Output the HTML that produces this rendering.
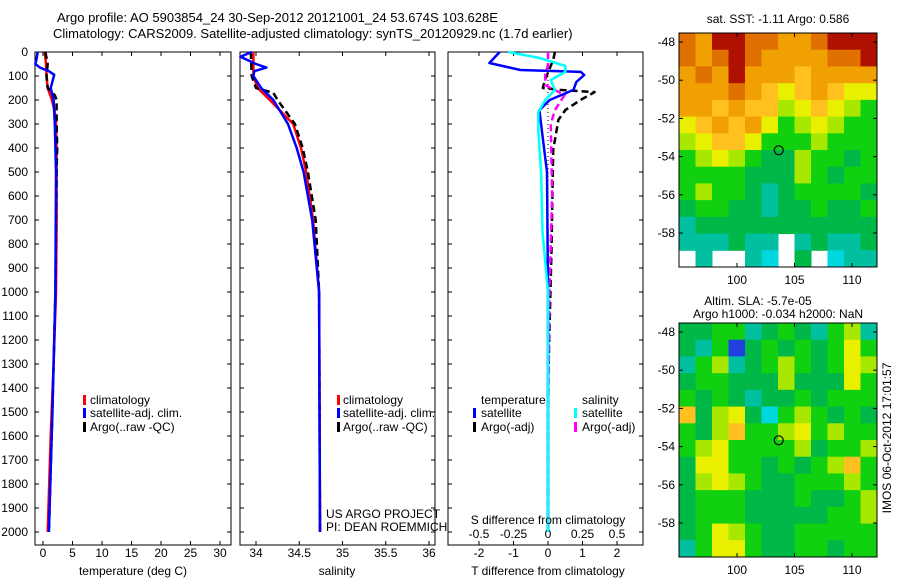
<!DOCTYPE html>
<html><head><meta charset="utf-8"><style>
html,body{margin:0;padding:0;background:#fff;}
svg{display:block;font-family:"Liberation Sans",sans-serif;}
text{font-size:12px;fill:#000;}
</style></head><body>
<svg id="fig" width="900" height="580" viewBox="0 0 900 580" xmlns="http://www.w3.org/2000/svg">
<text x="57" y="22" style="font-size:13px">Argo profile: AO 5903854_24 30-Sep-2012 20121001_24 53.674S 103.628E</text>
<text x="53" y="38" style="font-size:13px">Climatology: CARS2009. Satellite-adjusted climatology: synTS_20120929.nc (1.7d earlier)</text>
<g id="plots"></g>
</svg>
<script>
// ---------- data ----------
const depthTicks=[0,100,200,300,400,500,600,700,800,900,1000,1100,1200,1300,1400,1500,1600,1700,1800,1900,2000];
const tempTicks=[0,5,10,15,20,25,30];
const salTicks=[34,34.5,35,35.5,36];
const tdiffTicks=[-2,-1,0,1,2];
const sdiffTicks=[-0.5,-0.25,0,0.25,0.5];
const sdiffLabels=["-0.5","-0.25","0","0.25","0.5"];
// temperature
const tClimDepth=[0,50,100,150,200,250,300,400,500,700,1000,1300,1600,2000];
const tClimVal=[0.3,0.5,0.6,0.8,1.5,2.0,2.2,2.3,2.3,2.3,2.2,1.8,1.3,0.8];
const tSatDepth=[0,30,50,65,80,95,150,200,300,500,1000,1500,2000];
const tSatVal=[-0.9,-1.1,-1.3,-0.5,1.0,1.9,1.3,1.8,2.0,2.2,2.1,1.6,1.0];
const tArgoDepth=[0,50,100,150,180,200,300,400,500,1000,1500,2000];
const tArgoVal=[0.4,0.8,0.6,0.8,2.0,2.3,2.3,2.4,2.3,2.1,1.6,1.0];
// salinity
const sClimDepth=[0,100,150,200,300,400,500,700,1000,2000];
const sClimVal=[33.97,33.97,34.02,34.16,34.43,34.52,34.58,34.66,34.73,34.74];
const sSatDepth=[0,20,50,65,80,100,150,200,300,400,500,700,1000,2000];
const sSatVal=[33.95,33.82,34.0,34.12,33.98,33.97,34.06,34.2,34.37,34.47,34.55,34.65,34.73,34.74];
const sArgoDepth=[0,100,150,170,200,300,400,500,700,1000,2000];
const sArgoVal=[33.94,33.95,34.0,34.2,34.25,34.45,34.54,34.6,34.69,34.73,34.74];
// differences
const dTSatDepth=[0,46,75,83,96,125,158,200,242,325,500,1000,2000];
const dTSatVal=[-1.4,-1.7,-0.8,0.95,1.05,0.82,0.74,0.05,-0.25,-0.18,-0.03,0,0];
const dSSatDepth=[0,25,58,83,117,158,200,250,325,500,750,1000,2000];
const dSSatVal=[-0.29,-0.06,0.125,0.125,0.02,0.05,-0.02,-0.07,-0.07,-0.05,-0.04,0,0];
const dTArgoDepth=[0,33,117,150,158,167,200,242,283,408,825,1400,2000];
const dTArgoVal=[0.2,0.15,-0.09,-0.15,0.35,1.35,0.94,0.5,0.3,0.15,0.1,0,0];
const dSArgoDepth=[0,54,96,138,179,242,300,600,1000,1600,2000];
const dSArgoVal=[0,0,-0.02,-0.02,0.12,0.05,0.02,0.03,0.01,0,0];
// maps
const latTicks=[-48,-50,-52,-54,-56,-58];
const lonTicks=[100,105,110];
const sstGrid=[
[9,8,10,10,9,9,8,8,9,10,10,10],
[9,8,9,10,9,8,8,8,8,9,9,10],
[8,9,8,10,8,8,8,7,8,8,8,8],
[8,8,8,9,8,7,6,7,8,7,6,6],
[8,8,7,8,7,7,5,6,7,6,5,4],
[6,7,8,7,8,6,4,5,6,5,4,4],
[5,6,7,7,6,4,4,4,5,4,4,4],
[4,5,6,5,4,3,3,5,4,4,3,4],
[4,4,4,4,3,3,3,5,4,3,4,4],
[4,5,4,4,3,2,3,4,4,4,4,3],
[3,4,4,3,3,2,3,3,4,3,3,4],
[2,3,3,3,3,3,3,3,3,3,3,3],
[2,2,2,3,2,2,-1,2,3,2,2,3],
[-1,2,-1,-1,2,1,-1,3,-1,1,2,2]];
const slaGrid=[
[3,3,4,4,2,3,4,3,2,4,5,2],
[3,2,4,0,3,4,3,4,3,4,6,4],
[2,4,5,2,3,4,5,4,3,4,6,5],
[3,4,4,3,3,3,5,3,3,3,6,4],
[4,3,4,3,2,3,3,4,3,4,4,4],
[7,3,5,6,3,1,4,5,4,3,4,3],
[4,3,5,7,4,4,5,6,4,5,4,4],
[4,5,6,4,4,4,4,5,3,4,4,5],
[3,6,6,4,4,3,4,3,4,5,7,4],
[3,5,6,5,4,3,3,4,4,4,5,4],
[3,4,4,4,3,3,3,4,3,3,4,5],
[3,4,4,4,3,3,3,3,3,4,4,5],
[3,4,6,5,4,3,3,4,4,4,4,4],
[2,4,6,6,4,3,3,4,4,3,4,4]];
const floatLon=103.63, floatLat=-53.67;

// ---------- helpers ----------
const NS="http://www.w3.org/2000/svg";
const root=document.getElementById('plots');
function mk(tag,attrs,parent){const e=document.createElementNS(NS,tag);for(const k in attrs)e.setAttribute(k,attrs[k]);(parent||root).appendChild(e);return e;}
const top0=52, bot0=545;
const yD=d=>top0+d*0.24;
function linX(d0,p0,d1,p1){return v=>p0+(v-d0)*(p1-p0)/(d1-d0);}

function panel(x0,x1,name){
  const g=mk('g',{});
  
  
  const r=mk('rect',{x:x0,y:top0,width:x1-x0,height:bot0-top0,fill:'none',stroke:'#000','stroke-width':1},g);
  
  
  depthTicks.forEach(d=>{mk('line',{x1:x0,x2:x0+4,y1:yD(d),y2:yD(d),stroke:'#000'},g);mk('line',{x1:x1,x2:x1-4,y1:yD(d),y2:yD(d),stroke:'#000'},g);});
  return g;
}
function xticks(g,ticks,xf,labels,ly){
  ticks.forEach((t,i)=>{const x=xf(t);
    mk('line',{x1:x,x2:x,y1:bot0,y2:bot0-4,stroke:'#000'},g);
    mk('line',{x1:x,x2:x,y1:top0,y2:top0+4,stroke:'#000'},g);
    if(ly){const tx=mk('text',{x:x,y:ly,'text-anchor':'middle'},g);tx.textContent=labels?labels[i]:String(t);
      
      }
  });
}
function line(g,depths,vals,xf,color,w,dash,name){
  const pts=depths.map((d,i)=>xf(vals[i]).toFixed(1)+','+yD(d).toFixed(1)).join(' ');
  const p=mk('polyline',{points:pts,fill:'none',stroke:color,'stroke-width':w,'stroke-dasharray':dash||'none','stroke-linejoin':'round'},g);
  
  
}
function txt(g,x,y,s,name,anchor){const t=mk('text',{x:x,y:y,'text-anchor':anchor||'start'},g);t.textContent=s;
  
  return t;}
function legBar(g,x,y,color,name){const r=mk('rect',{x:x,y:y-9,width:3,height:10,fill:color},g);
  
  }

// ---------- panel 1: temperature ----------
const g1=panel(35,231,'temperature-panel');
const xT=linX(0,43,30,220);
xticks(g1,tempTicks,xT,null,557);
depthTicks.forEach(d=>{const t=txt(g1,28,yD(d)+4,String(d),'y-tick-label','end');});
line(g1,tClimDepth,tClimVal,xT,'#ff0000',2.5,null,'temp-climatology-line');
line(g1,tArgoDepth,tArgoVal,xT,'#000',2.5,'7,4','temp-argo-line');
line(g1,tSatDepth,tSatVal,xT,'#0000ff',2.5,null,'temp-satellite-line');
txt(g1,133,575,'temperature (deg C)','x-axis-title','middle');
legBar(g1,83,404,'#ff0000','legend-climatology-swatch');txt(g1,90,404,'climatology','legend-climatology');
legBar(g1,83,417,'#0000ff','legend-satellite-swatch');txt(g1,90,417,'satellite-adj. clim.','legend-satellite');
legBar(g1,83,431,'#000','legend-argo-swatch');txt(g1,90,431,'Argo(..raw -QC)','legend-argo');

// ---------- panel 2: salinity ----------
const g2=panel(240,435,'salinity-panel');
const xS=linX(34,256,36,429);
xticks(g2,salTicks,xS,null,557);
line(g2,sClimDepth,sClimVal,xS,'#ff0000',2.5,null,'sal-climatology-line');
line(g2,sArgoDepth,sArgoVal,xS,'#000',2.5,'7,4','sal-argo-line');
line(g2,sSatDepth,sSatVal,xS,'#0000ff',2.5,null,'sal-satellite-line');
txt(g2,337,575,'salinity','x-axis-title','middle');
legBar(g2,337,404,'#ff0000','legend-climatology-swatch');txt(g2,343,404,'climatology','legend-climatology');
legBar(g2,337,417,'#0000ff','legend-satellite-swatch');txt(g2,343,417,'satellite-adj. clim.','legend-satellite');
legBar(g2,337,431,'#000','legend-argo-swatch');txt(g2,343,431,'Argo(..raw -QC)','legend-argo');
txt(g2,326,518,'US ARGO PROJECT','project-credit');
txt(g2,326,531,'PI: DEAN ROEMMICH','pi-credit');

// ---------- panel 3: differences ----------
const g3=panel(448,643,'difference-panel');
const xDT=linX(0,548,1,582.5);
const xDS=v=>548+v*138;
xticks(g3,tdiffTicks,xDT,null,557);
sdiffTicks.forEach((t,i)=>{const x=xDS(t);txt(g3,x,538,sdiffLabels[i],'s-tick-label','middle');});
const zl=mk('line',{x1:548,x2:548,y1:top0,y2:yD(2000),stroke:'#000','stroke-dasharray':'1,3'},g3);


line(g3,dTArgoDepth,dTArgoVal,xDT,'#000',2.5,'7,4','tdiff-argo-line');
line(g3,dSArgoDepth,dSArgoVal,xDS,'#ff00ff',2.5,'7,4','sdiff-argo-line');
line(g3,dTSatDepth,dTSatVal,xDT,'#0000ff',2.5,null,'tdiff-satellite-line');
line(g3,dSSatDepth,dSSatVal,xDS,'#00ffff',2.5,null,'sdiff-satellite-line');
txt(g3,548,524,'S difference from climatology','s-axis-title','middle');
txt(g3,548,575,'T difference from climatology','t-axis-title','middle');
txt(g3,481,404,'temperature','legend-temperature-header');
txt(g3,582,404,'salinity','legend-salinity-header');
legBar(g3,473,417,'#0000ff','legend-tsat-swatch');txt(g3,481,417,'satellite','legend-t-satellite');
legBar(g3,473,431,'#000','legend-targo-swatch');txt(g3,481,431,'Argo(-adj)','legend-t-argo');
legBar(g3,574,417,'#00ffff','legend-ssat-swatch');txt(g3,582,417,'satellite','legend-s-satellite');
legBar(g3,574,431,'#ff00ff','legend-sargo-swatch');txt(g3,582,431,'Argo(-adj)','legend-s-argo');

// ---------- maps ----------
const pal=['#2040e0','#00d8e0','#00c0a0','#00b848','#10d010','#a8e800','#e8f000','#ffc020','#f0a000','#e07000','#b01000'];
function mapPanel(y0,grid,name){
  const x0=679,x1=877,y1=y0+234;
  const g=mk('g',{});
  
  
  const lonX=linX(100,737,110,852);
  const latY=linX(-48,y0+9,-58,y0+200);
  const rows=grid.length, cols=grid[0].length;
  const cw=(x1-x0)/cols, ch=(y1-y0)/rows;
  grid.forEach((row,ri)=>row.forEach((v,ci)=>{
    if(v<0)return;
    const c=mk('rect',{x:x0+ci*cw,y:y0+ri*ch,width:cw+0.5,height:ch+0.5,fill:pal[v]},g);
    
    
  }));
  const fr=mk('rect',{x:x0,y:y0,width:x1-x0,height:y1-y0,fill:'none',stroke:'#000'},g);
  
  
  latTicks.forEach(l=>{const y=latY(l);mk('line',{x1:x0,x2:x0+4,y1:y,y2:y,stroke:'#000'},g);mk('line',{x1:x1,x2:x1-4,y1:y,y2:y,stroke:'#000'},g);
    txt(g,x0-4,y+4,String(l),'lat-tick-label','end');});
  lonTicks.forEach(l=>{const x=lonX(l);mk('line',{x1:x,x2:x,y1:y1,y2:y1-4,stroke:'#000'},g);mk('line',{x1:x,x2:x,y1:y0,y2:y0+4,stroke:'#000'},g);
    txt(g,x,y1+17,String(l),'lon-tick-label','middle');});
  const m=mk('circle',{cx:lonX(floatLon),cy:latY(floatLat),r:4.5,fill:'none',stroke:'#000','stroke-width':1.2},g);
  
  
}
mapPanel(33,sstGrid,'sst-map');
mapPanel(323,slaGrid,'sla-map');
txt(root,778,23,'sat. SST: -1.11 Argo: 0.586','sst-map-title','middle');
txt(root,758,305,'Altim. SLA: -5.7e-05','sla-map-title','middle');
txt(root,778,318,'Argo h1000: -0.034 h2000: NaN','sla-map-subtitle','middle');
const st=txt(root,0,0,'IMOS 06-Oct-2012 17:01:57','timestamp','middle');
st.setAttribute('transform','translate(891,438) rotate(-90)');
</script>
</body></html>
